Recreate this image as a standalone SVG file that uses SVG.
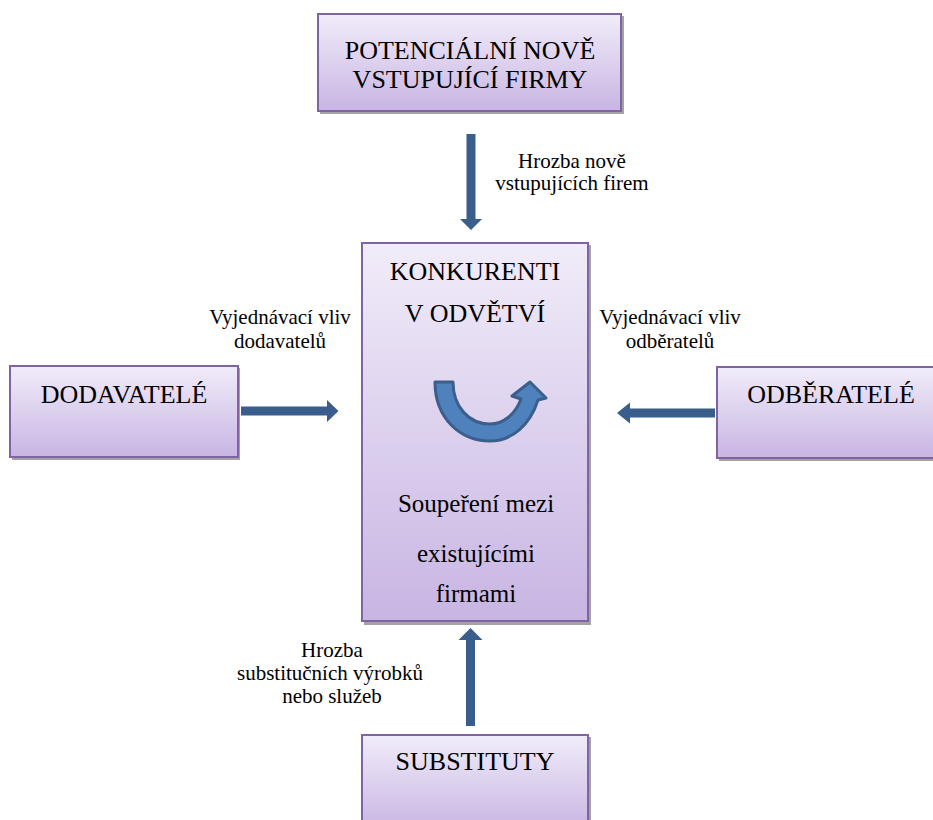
<svg xmlns="http://www.w3.org/2000/svg" width="933" height="820" viewBox="0 0 933 820">
<defs>
<linearGradient id="g" x1="0" y1="0" x2="0" y2="1">
<stop offset="0" stop-color="#f1ecf9"/>
<stop offset="1" stop-color="#c8b5e3"/>
</linearGradient>
<style>
.box{fill:url(#g);stroke:#8064a2;stroke-width:2}
.sh{fill:#a3a3a3}
.t{font-family:"Liberation Serif","Times New Roman",serif;font-size:26px;fill:#000;text-anchor:middle}
.b{font-family:"Liberation Serif","Times New Roman",serif;font-size:25px;fill:#000;text-anchor:middle}
.l{font-family:"Liberation Serif","Times New Roman",serif;font-size:21px;fill:#000;text-anchor:middle}
.a{fill:#3a5e8c}
</style>
</defs>
<rect width="933" height="820" fill="#fff"/>

<g id="potencialni">
<rect class="sh" x="320" y="16" width="304" height="98"/>
<rect class="box" x="318" y="14" width="303" height="97"/>
<text class="t" x="470" y="59">POTENCIÁLNÍ NOVĚ</text>
<text class="t" x="470" y="88">VSTUPUJÍCÍ FIRMY</text>
</g>

<g id="konkurenti">
<rect class="sh" x="364" y="245" width="227" height="380"/>
<rect class="box" x="362" y="243" width="226" height="378"/>
<text class="t" x="475" y="280">KONKURENTI</text>
<text class="t" x="475" y="322">V ODVĚTVÍ</text>
<path d="M435,382 C435,418 460,441 490,441 C512,441 530,425 538,400 L546,398 L530,382 L512,396 L521,399 C515,415 503,424 490,424 C469,424 453,407 453,382 Z" fill="#4f81bd" stroke="#3a5f8b" stroke-width="3" stroke-linejoin="round"/>
<text class="b" x="476" y="512">Soupeření mezi</text>
<text class="b" x="476" y="562">existujícími</text>
<text class="b" x="476" y="602">firmami</text>
</g>

<g id="dodavatele">
<rect class="sh" x="12" y="368" width="228" height="92"/>
<rect class="box" x="10" y="366" width="228" height="91"/>
<text class="t" x="124" y="403">DODAVATELÉ</text>
</g>

<g id="odberatele">
<rect class="sh" x="719" y="369" width="228" height="92"/>
<rect class="box" x="717" y="367" width="228" height="91"/>
<text class="t" x="831" y="403">ODBĚRATELÉ</text>
</g>

<g id="substituty">
<rect class="sh" x="364" y="737" width="227" height="95"/>
<rect class="box" x="362" y="735" width="226" height="95"/>
<text class="t" x="475" y="770">SUBSTITUTY</text>
</g>

<g id="connectors">
<path class="a" d="M466.5,134 H475.5 V219 H482 L471,230 L460,219 H466.5 Z"/>
<path class="a" d="M241,406.5 H327 V400 L338.5,411 L327,422 V415.5 H241 Z"/>
<path class="a" d="M715,408.5 H630 V402.5 L617,413 L630,423.5 V417.5 H715 Z"/>
<path class="a" d="M466,726 V640 H458.5 L470.5,628 L482.5,640 H475 V726 Z"/>
<text class="l" x="572" y="168">Hrozba nově</text>
<text class="l" x="572" y="190">vstupujících firem</text>
<text class="l" x="280" y="324">Vyjednávací vliv</text>
<text class="l" x="280" y="348">dodavatelů</text>
<text class="l" x="670" y="324">Vyjednávací vliv</text>
<text class="l" x="670" y="348">odběratelů</text>
<text class="l" x="332" y="657">Hrozba</text>
<text class="l" x="330" y="680">substitučních výrobků</text>
<text class="l" x="332" y="703">nebo služeb</text>
</g>
</svg>
